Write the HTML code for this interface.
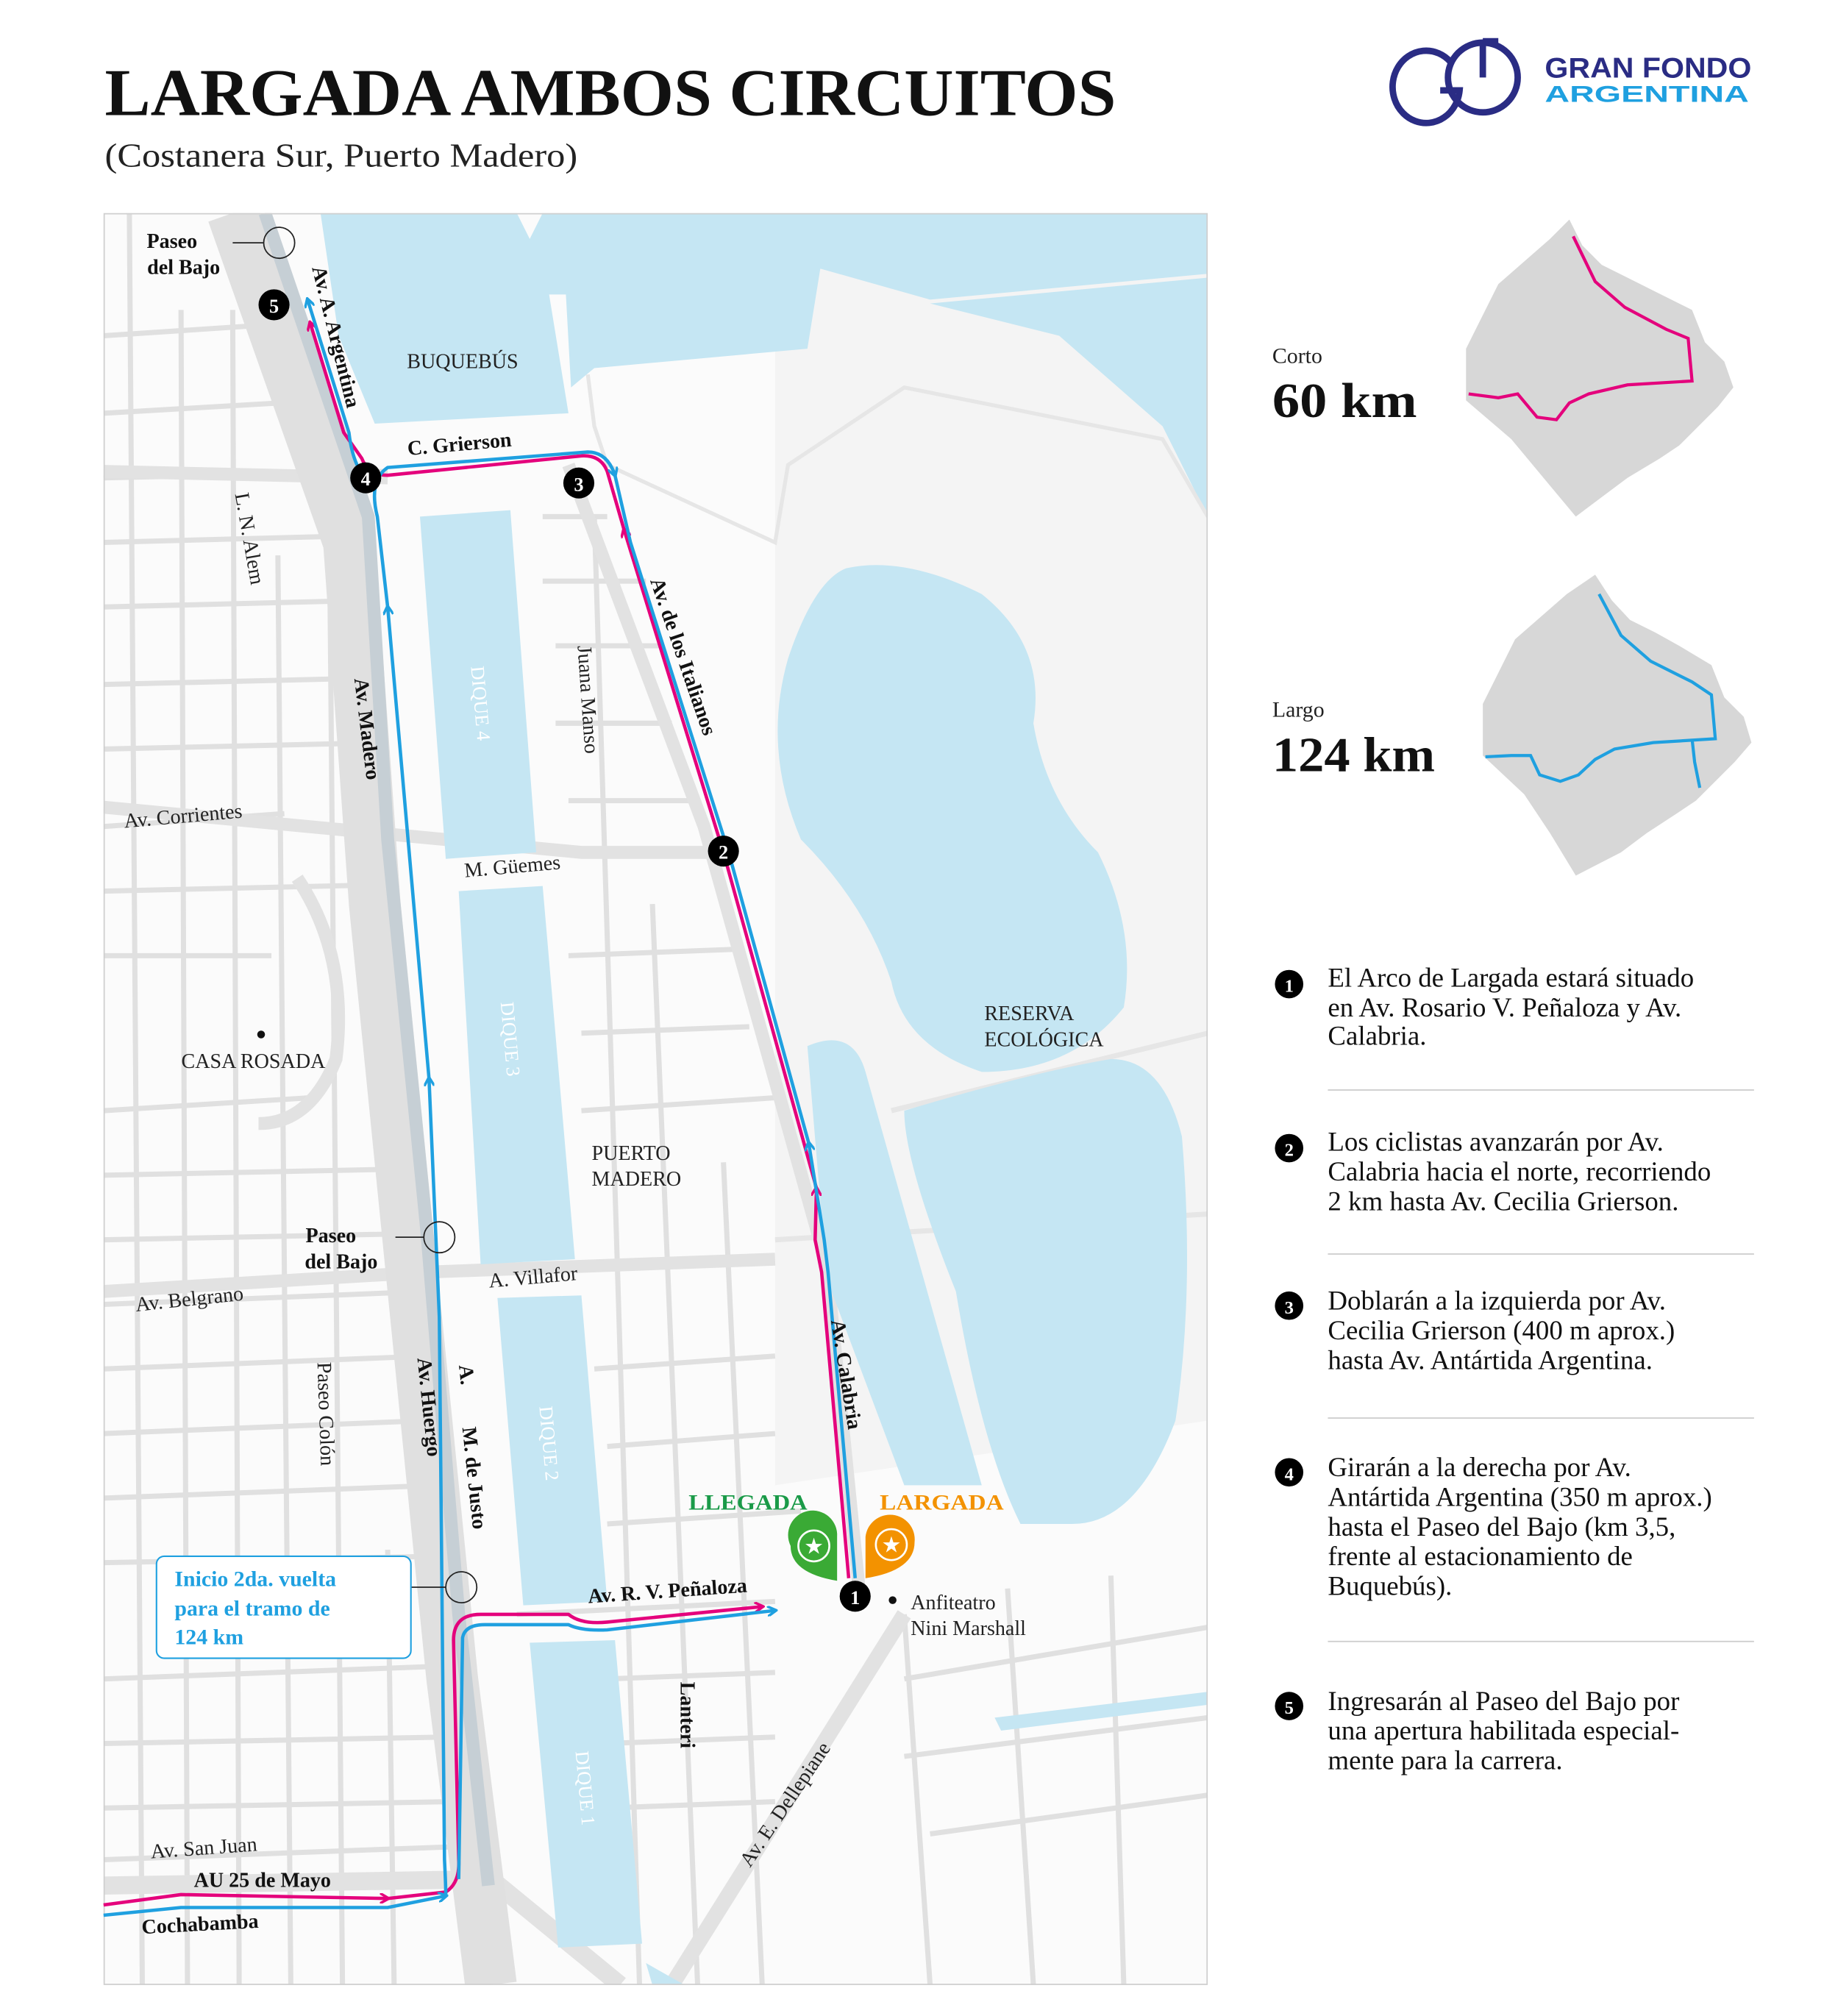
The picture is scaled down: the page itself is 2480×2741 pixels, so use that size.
<!DOCTYPE html>
<html><head><meta charset="utf-8"><style>
html,body{margin:0;padding:0;background:#fff}
svg{display:block}
text{font-family:"Liberation Serif",serif}
.b{font-weight:bold}
.lb{font-size:16px;fill:#111}
.lr{font-size:16px;fill:#222}
.dq{font-size:15px;fill:#fff}
.it{font-size:21px;fill:#111}
</style></head><body>
<svg width="2480" height="2741" viewBox="0 0 1412 1561" xmlns="http://www.w3.org/2000/svg">
<defs>
<clipPath id="mc"><rect x="80" y="165" width="855" height="1372"/></clipPath>
<marker id="ap" markerWidth="8" markerHeight="8" refX="6" refY="4" orient="auto" markerUnits="userSpaceOnUse"><path d="M0,0 L7,4 L0,8" fill="none" stroke="#e4007c" stroke-width="2"/></marker>
<marker id="ab" markerWidth="8" markerHeight="8" refX="6" refY="4" orient="auto" markerUnits="userSpaceOnUse"><path d="M0,0 L7,4 L0,8" fill="none" stroke="#1fa0e0" stroke-width="2"/></marker>
</defs>

<!-- Title -->
<text x="81" y="89" class="b" textLength="783" lengthAdjust="spacingAndGlyphs" style="font-size:52px;fill:#111">LARGADA AMBOS CIRCUITOS</text>
<text x="81" y="129" textLength="366" lengthAdjust="spacingAndGlyphs" style="font-size:26px;fill:#222">(Costanera Sur, Puerto Madero)</text>

<!-- Logo -->
<g fill="none" stroke="#2a2c84" stroke-width="5">
<path d="M1123,48 A26,28 0 1 0 1130,70 L1115,70"/>
<circle cx="1148" cy="60" r="27"/>
<path d="M1148,60 L1148,32 M1148,32 L1160,32"/>
</g>
<text x="1196" y="60" class="b" textLength="160" lengthAdjust="spacingAndGlyphs" style="font-family:'Liberation Sans',sans-serif;font-size:22px;fill:#2a2c84">GRAN FONDO</text>
<text x="1196" y="79" class="b" textLength="158" lengthAdjust="spacingAndGlyphs" style="font-family:'Liberation Sans',sans-serif;font-size:18px;fill:#1fa0e0">ARGENTINA</text>

<!-- MAP -->
<g clip-path="url(#mc)">
<rect x="80" y="165" width="855" height="1372" fill="#f4f4f4"/>
<rect x="80" y="165" width="520" height="1372" fill="#fbfbfb"/>
<path d="M600,1150 L935,1100 L935,1537 L560,1537 Z" fill="#fbfbfb"/>
<g stroke="#e0e0e0" stroke-width="4" fill="none">
<path d="M80,260 L230,250 M80,320 L250,310 M80,370 L300,365 M80,420 L270,415 M80,470 L280,465 M80,530 L290,525 M80,580 L300,575 M80,640 L220,630 M80,690 L300,685 M80,740 L210,740 M80,860 L240,850 M80,910 L320,905 M80,960 L330,955 M80,1010 L330,1000 M80,1060 L330,1050 M80,1110 L330,1100 M80,1160 L340,1150 M80,1210 L340,1205 M80,1300 L345,1290 M80,1350 L345,1345 M80,1400 L350,1395 M80,1440 L350,1430"/>
<path d="M100,165 L110,1537 M140,240 L145,1537 M180,240 L185,1537 M215,430 L225,1537 M255,420 L265,1537 M300,1200 L305,1537"/>
<path d="M400,1250 L600,1240 M470,1300 L600,1295 M470,1350 L600,1345 M470,1400 L600,1395 M420,400 L470,400 M420,450 L500,450 M430,500 L510,500 M430,560 L520,560 M440,620 L540,620 M440,740 L570,735 M450,800 L580,795 M450,860 L600,850 M460,1060 L600,1050 M470,1120 L600,1110 M470,1180 L620,1170"/>
<path d="M460,400 L495,1537 M505,700 L540,1537 M560,900 L590,1537 M700,1250 L720,1537 M780,1230 L800,1537 M860,1220 L870,1537 M700,1300 L935,1260 M700,1360 L935,1330 M720,1420 L935,1390"/>
<path d="M690,860 L935,800 M600,960 L935,940" stroke="#e6e6e6"/>
</g>
<path d="M80,625 L450,660 L560,660" stroke="#e2e2e2" stroke-width="10" fill="none"/>
<path d="M80,1000 L330,985 L600,975" stroke="#e2e2e2" stroke-width="10" fill="none"/>
<path d="M80,365 L300,370" stroke="#e2e2e2" stroke-width="10" fill="none"/>
<path d="M520,1537 L700,1250" stroke="#e2e2e2" stroke-width="12" fill="none"/>
<path d="M80,1460 L380,1455 L480,1537" stroke="#e2e2e2" stroke-width="14" fill="none"/>
<path d="M230,680 Q270,740 260,820 Q240,870 200,870" stroke="#e2e2e2" stroke-width="10" fill="none"/>
<path d="M180,165 L270,420 L290,700 L320,1000 L350,1300 L380,1537" stroke="#e0e0e0" stroke-width="40" fill="none"/>
<path d="M205,165 L285,400 L300,650 L330,950 L355,1250 L378,1460" stroke="#c6cfd5" stroke-width="10" fill="none"/>
<path d="M440,360 L545,640 L640,980 L665,1230" stroke="#e2e2e2" stroke-width="10" fill="none"/>
<g fill="#c5e6f3">
<path d="M248,165 L400,165 L410,185 L420,165 L935,165 L935,212 L720,232 L635,208 L625,270 L460,285 L442,300 L438,228 L425,228 L440,320 L290,328 L262,260 Z"/>
<path d="M720,235 L935,215 L935,400 L900,330 L820,260 Z"/>
<path d="M655,440 Q700,430 760,460 Q810,500 800,560 Q810,620 850,660 Q880,720 870,780 Q830,830 760,830 Q700,810 690,760 Q670,700 620,650 Q590,580 610,510 Q630,450 655,440 Z"/>
<path d="M625,810 Q660,795 670,830 L760,1150 L700,1150 L640,990 Z"/>
<path d="M700,860 Q800,830 860,820 Q900,820 915,880 Q925,1000 910,1100 Q880,1180 830,1180 L790,1180 Q760,1120 740,1000 Q700,900 700,860 Z"/>
<path d="M325,400 L395,395 L415,660 L345,665 Z"/>
<path d="M355,690 L420,686 L445,975 L372,979 Z"/>
<path d="M385,1005 L450,1003 L470,1240 L405,1243 Z"/>
<path d="M410,1272 L476,1270 L497,1505 L432,1508 Z"/>
<path d="M770,1330 L935,1310 L935,1320 L775,1340 Z"/>
<path d="M500,1520 L530,1537 L505,1537 Z"/>
</g>
<path d="M455,290 L460,330 L470,360 L600,420 L610,360 L700,300 L900,340 L935,400" stroke="#e6e6e6" stroke-width="3" fill="none"/>
</g>
<rect x="80.5" y="165.5" width="854" height="1371" fill="none" stroke="#cfcfcf" stroke-width="1"/>

<!-- routes -->
<g fill="none" stroke-width="2.6" stroke-linejoin="round">
<path d="M80,1475 L140,1467 L300,1470" stroke="#e4007c" marker-end="url(#ap)"/>
<path d="M300,1470 L345,1465 Q356,1458 355,1440 L351,1270 Q351,1250 372,1250 L440,1250 Q450,1258 470,1256 L590,1244" stroke="#e4007c" marker-end="url(#ap)"/>
<path d="M657,1222 L636,985 L631,960 L632,920" stroke="#e4007c" marker-end="url(#ap)"/>
<path d="M632,920 L560,660 L483,410" stroke="#e4007c" marker-end="url(#ap)"/>
<path d="M483,410 L470,365 Q465,352 450,353 L300,368 Q285,368 280,355 L266,335 L240,250" stroke="#e4007c" marker-end="url(#ap)"/>
<path d="M80,1483 L140,1477 L300,1477 L345,1468" stroke="#1fa0e0" marker-end="url(#ab)"/>
<path d="M345,1468 Q345,1460 344,1440 L340,1020 L332,835" stroke="#1fa0e0" marker-end="url(#ab)"/>
<path d="M332,835 L300,470" stroke="#1fa0e0" marker-end="url(#ab)"/>
<path d="M300,470 L292,400 Q285,372 300,362 L455,350 Q470,350 476,368" stroke="#1fa0e0" marker-end="url(#ab)"/>
<path d="M355,1455 L358,1268 Q360,1258 375,1258 L440,1258 Q450,1263 470,1262 L600,1247" stroke="#1fa0e0" marker-end="url(#ab)"/>
<path d="M662,1222 L641,985 L638,960 L626,885" stroke="#1fa0e0" marker-end="url(#ab)"/>
<path d="M626,885 L564,660 L488,420 L476,368" stroke="#1fa0e0"/>
<path d="M283,370 Q273,360 270,335 L238,232" stroke="#1fa0e0" marker-end="url(#ab)"/>
</g>

<!-- pins -->
<path d="M648,1224 Q612,1218 612,1197 A19,19 0 1 1 648,1190 Z" fill="#3aaa35"/>
<circle cx="630" cy="1197" r="12" fill="none" stroke="#fff" stroke-width="1.5"/>
<text x="630" y="1203" text-anchor="middle" style="font-size:17px;fill:#fff">★</text>
<path d="M670,1222 Q708,1216 708,1194 A19,19 0 1 0 670,1190 Z" fill="#f39200"/>
<circle cx="690" cy="1196" r="12" fill="none" stroke="#fff" stroke-width="1.5"/>
<text x="690" y="1202" text-anchor="middle" style="font-size:17px;fill:#fff">★</text>
<text x="579" y="1169" text-anchor="middle" class="b" textLength="92" lengthAdjust="spacingAndGlyphs" style="font-size:17px;fill:#1a9a48">LLEGADA</text>
<text x="729" y="1169" text-anchor="middle" class="b" textLength="96" lengthAdjust="spacingAndGlyphs" style="font-size:17px;fill:#f39200">LARGADA</text>

<g>
<circle cx="662" cy="1236" r="12" fill="#000"/><text x="662" y="1242" text-anchor="middle" class="b" style="font-size:15px;fill:#fff">1</text>
<circle cx="560" cy="659" r="12" fill="#000"/><text x="560" y="665" text-anchor="middle" class="b" style="font-size:15px;fill:#fff">2</text>
<circle cx="448" cy="374" r="12" fill="#000"/><text x="448" y="380" text-anchor="middle" class="b" style="font-size:15px;fill:#fff">3</text>
<circle cx="283" cy="370" r="12" fill="#000"/><text x="283" y="376" text-anchor="middle" class="b" style="font-size:15px;fill:#fff">4</text>
<circle cx="212" cy="236" r="12" fill="#000"/><text x="212" y="242" text-anchor="middle" class="b" style="font-size:15px;fill:#fff">5</text>
</g>

<g fill="none" stroke="#222" stroke-width="1">
<circle cx="216" cy="188" r="12"/><line x1="180" y1="188" x2="204" y2="188"/>
<circle cx="340" cy="958" r="12"/><line x1="306" y1="958" x2="328" y2="958"/>
<circle cx="357" cy="1229" r="12"/><line x1="318" y1="1229" x2="345" y2="1229"/>
</g>

<text x="133" y="192" class="b lb" text-anchor="middle">Paseo</text>
<text x="142" y="212" class="b lb" text-anchor="middle">del Bajo</text>
<text transform="translate(255,262) rotate(76)" class="b lb" text-anchor="middle">Av. A. Argentina</text>
<text x="358" y="285" class="lr" text-anchor="middle">BUQUEBÚS</text>
<text transform="translate(356,349) rotate(-5)" class="b lb" text-anchor="middle">C. Grierson</text>
<text transform="translate(188,418) rotate(80)" class="lr" text-anchor="middle">L. N. Alem</text>
<text transform="translate(279,565) rotate(83)" class="b lb" text-anchor="middle">Av. Madero</text>
<text transform="translate(367,545) rotate(85)" class="dq" text-anchor="middle">DIQUE 4</text>
<text transform="translate(450,542) rotate(86)" class="lr" text-anchor="middle">Juana Manso</text>
<text transform="translate(524,510) rotate(71)" class="b lb" text-anchor="middle">Av. de los Italianos</text>
<text transform="translate(142,637) rotate(-5)" class="lr" text-anchor="middle">Av. Corrientes</text>
<text transform="translate(397,676) rotate(-5)" class="lr" text-anchor="middle">M. Güemes</text>
<text transform="translate(390,805) rotate(85)" class="dq" text-anchor="middle">DIQUE 3</text>
<circle cx="202" cy="801" r="3" fill="#111"/>
<text x="196" y="827" class="lr" text-anchor="middle">CASA ROSADA</text>
<text x="762" y="790" class="lr">RESERVA</text>
<text x="762" y="810" class="lr">ECOLÓGICA</text>
<text x="458" y="898" class="lr">PUERTO</text>
<text x="458" y="918" class="lr">MADERO</text>
<text x="256" y="962" class="b lb" text-anchor="middle">Paseo</text>
<text x="264" y="982" class="b lb" text-anchor="middle">del Bajo</text>
<text transform="translate(413,994) rotate(-5)" class="lr" text-anchor="middle">A. Villafor</text>
<text transform="translate(147,1011) rotate(-6)" class="lr" text-anchor="middle">Av. Belgrano</text>
<text transform="translate(247,1095) rotate(88)" class="lr" text-anchor="middle">Paseo Colón</text>
<text transform="translate(327,1090) rotate(84)" class="b lb" text-anchor="middle">Av. Huergo</text>
<text transform="translate(356,1065) rotate(84)" class="b lb" text-anchor="middle">A.</text>
<text transform="translate(362,1145) rotate(84)" class="b lb" text-anchor="middle">M. de Justo</text>
<text transform="translate(420,1118) rotate(85)" class="dq" text-anchor="middle">DIQUE 2</text>
<text transform="translate(650,1065) rotate(81)" class="b lb" text-anchor="middle">Av. Calabria</text>
<circle cx="691" cy="1239" r="3" fill="#111"/>
<text x="705" y="1246" class="lr">Anfiteatro</text>
<text x="705" y="1266" class="lr">Nini Marshall</text>
<text transform="translate(517,1237) rotate(-4)" class="b lb" text-anchor="middle">Av. R. V. Peñaloza</text>
<rect x="121" y="1205" width="197" height="79" rx="6" fill="#fff" stroke="#1fa0e0" stroke-width="1.2"/>
<text x="135" y="1228" class="b" style="font-size:17px;fill:#1fa0e0">Inicio  2da. vuelta</text>
<text x="135" y="1251" class="b" style="font-size:17px;fill:#1fa0e0">para el tramo de</text>
<text x="135" y="1273" class="b" style="font-size:17px;fill:#1fa0e0">124 km</text>
<text transform="translate(527,1328) rotate(90)" class="b lb" text-anchor="middle">Lanteri</text>
<text transform="translate(448,1385) rotate(85)" class="dq" text-anchor="middle">DIQUE 1</text>
<text transform="translate(612,1400) rotate(-56)" class="lr" text-anchor="middle">Av. E. Dellepiane</text>
<text transform="translate(158,1436) rotate(-4)" class="lr" text-anchor="middle">Av. San Juan</text>
<text x="203" y="1461" class="b lb" text-anchor="middle">AU 25 de Mayo</text>
<text transform="translate(155,1495) rotate(-3)" class="b lb" text-anchor="middle">Cochabamba</text>

<!-- right panel maps -->
<text x="985" y="281" style="font-size:17px;fill:#222">Corto</text>
<text x="985" y="323" class="b" textLength="112" lengthAdjust="spacingAndGlyphs" style="font-size:38px;fill:#111">60 km</text>
<path d="M1215,170 L1225,190 L1240,205 L1260,215 L1280,225 L1310,240 L1320,265 L1335,280 L1342,300 L1330,315 L1315,330 L1300,345 L1285,355 L1260,370 L1240,385 L1220,400 L1195,370 L1170,340 L1135,310 L1135,270 L1160,220 L1200,185 Z" fill="#d7d7d7"/>
<path d="M1218,183 L1235,218 L1258,238 L1290,255 L1307,262 L1310,295 L1260,298 L1230,305 L1215,312 L1205,325 L1190,323 L1175,305 L1160,308 L1137,305" fill="none" stroke="#e4007c" stroke-width="2.4"/>
<text x="985" y="555" style="font-size:17px;fill:#222">Largo</text>
<text x="985" y="597" class="b" textLength="126" lengthAdjust="spacingAndGlyphs" style="font-size:38px;fill:#111">124 km</text>
<path d="M1235,445 L1248,465 L1262,480 L1282,490 L1300,500 L1325,515 L1335,540 L1350,555 L1356,575 L1343,590 L1328,605 L1313,620 L1298,630 L1275,645 L1255,660 L1220,678 L1200,645 L1180,615 L1148,585 L1148,545 L1173,495 L1213,460 Z" fill="#d7d7d7"/>
<path d="M1238,460 L1255,492 L1278,512 L1310,528 L1325,538 L1328,572 L1280,575 L1250,580 L1235,588 L1222,600 L1208,605 L1192,600 L1185,585 L1170,585 L1150,586 M1310,572 L1312,590 L1316,610" fill="none" stroke="#1fa0e0" stroke-width="2.4"/>

<!-- list -->
<g>
<circle cx="998" cy="762" r="11" fill="#000"/><text x="998" y="768" text-anchor="middle" class="b" style="font-size:14px;fill:#fff">1</text>
<text x="1028" y="764" class="it">El Arco de Largada estará situado</text>
<text x="1028" y="787" class="it">en Av. Rosario V. Peñaloza y Av.</text>
<text x="1028" y="809" class="it">Calabria.</text>
<line x1="1028" y1="844" x2="1358" y2="844" stroke="#ccc"/>
<circle cx="998" cy="889" r="11" fill="#000"/><text x="998" y="895" text-anchor="middle" class="b" style="font-size:14px;fill:#fff">2</text>
<text x="1028" y="891" class="it">Los ciclistas avanzarán por Av.</text>
<text x="1028" y="914" class="it">Calabria hacia el norte, recorriendo</text>
<text x="1028" y="937" class="it">2 km hasta Av. Cecilia Grierson.</text>
<line x1="1028" y1="971" x2="1358" y2="971" stroke="#ccc"/>
<circle cx="998" cy="1011" r="11" fill="#000"/><text x="998" y="1017" text-anchor="middle" class="b" style="font-size:14px;fill:#fff">3</text>
<text x="1028" y="1014" class="it">Doblarán a la izquierda por Av.</text>
<text x="1028" y="1037" class="it">Cecilia Grierson (400 m aprox.)</text>
<text x="1028" y="1060" class="it">hasta Av. Antártida Argentina.</text>
<line x1="1028" y1="1098" x2="1358" y2="1098" stroke="#ccc"/>
<circle cx="998" cy="1140" r="11" fill="#000"/><text x="998" y="1146" text-anchor="middle" class="b" style="font-size:14px;fill:#fff">4</text>
<text x="1028" y="1143" class="it">Girarán a la derecha por Av.</text>
<text x="1028" y="1166" class="it">Antártida Argentina (350 m aprox.)</text>
<text x="1028" y="1189" class="it">hasta el Paseo del Bajo (km 3,5,</text>
<text x="1028" y="1212" class="it">frente al estacionamiento de</text>
<text x="1028" y="1235" class="it">Buquebús).</text>
<line x1="1028" y1="1271" x2="1358" y2="1271" stroke="#ccc"/>
<circle cx="998" cy="1321" r="11" fill="#000"/><text x="998" y="1327" text-anchor="middle" class="b" style="font-size:14px;fill:#fff">5</text>
<text x="1028" y="1324" class="it">Ingresarán al Paseo del Bajo por</text>
<text x="1028" y="1347" class="it">una apertura habilitada especial-</text>
<text x="1028" y="1370" class="it">mente para la carrera.</text>
</g>
</svg>
</body></html>
